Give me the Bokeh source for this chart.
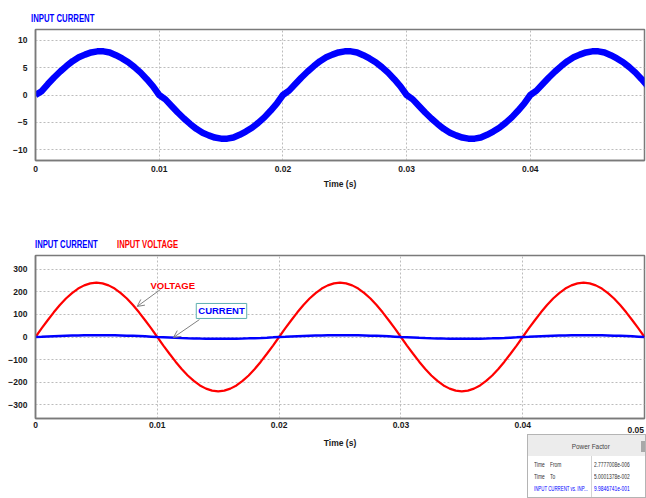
from bokeh.plotting import figure
from bokeh.layouts import column
from bokeh.models import Range1d, Label, Arrow, OpenHead, FixedTicker, Div
from bokeh.embed import file_html
from bokeh.resources import INLINE

# ---------------- data ----------------
time_s = [
    0.0, 0.0005, 0.001, 0.0015, 0.002, 0.0025, 0.003, 0.0035, 0.004, 0.0045,
    0.005, 0.0055, 0.006, 0.0065, 0.007, 0.0075, 0.008, 0.0085, 0.009, 0.0095,
    0.01, 0.0105, 0.011, 0.0115, 0.012, 0.0125, 0.013, 0.0135, 0.014, 0.0145,
    0.015, 0.0155, 0.016, 0.0165, 0.017, 0.0175, 0.018, 0.0185, 0.019, 0.0195,
    0.02, 0.0205, 0.021, 0.0215, 0.022, 0.0225, 0.023, 0.0235, 0.024, 0.0245,
    0.025, 0.0255, 0.026, 0.0265, 0.027, 0.0275, 0.028, 0.0285, 0.029, 0.0295,
    0.03, 0.0305, 0.031, 0.0315, 0.032, 0.0325, 0.033, 0.0335, 0.034, 0.0345,
    0.035, 0.0355, 0.036, 0.0365, 0.037, 0.0375, 0.038, 0.0385, 0.039, 0.0395,
    0.04, 0.0405, 0.041, 0.0415, 0.042, 0.0425, 0.043, 0.0435, 0.044, 0.0445,
    0.045, 0.0455, 0.046, 0.0465, 0.047, 0.0475, 0.048, 0.0485, 0.049, 0.0495,
    0.05,
]

input_current = [
    0.0, 0.7, 2.0, 3.2, 4.3, 5.3, 6.2, 6.9, 7.4, 7.8,
    8.0, 8.0, 7.8, 7.3, 6.7, 6.0, 5.1, 4.1, 2.9, 1.6,
    0.0, -0.8, -2.0, -3.2, -4.3, -5.3, -6.2, -6.9, -7.4, -7.8,
    -8.0, -8.0, -7.8, -7.3, -6.7, -6.0, -5.1, -4.1, -2.9, -1.6,
    0.0, 0.8, 2.0, 3.2, 4.3, 5.3, 6.2, 6.9, 7.4, 7.8,
    8.0, 8.0, 7.8, 7.3, 6.7, 6.0, 5.1, 4.1, 2.9, 1.6,
    0.0, -0.8, -2.0, -3.2, -4.3, -5.3, -6.2, -6.9, -7.4, -7.8,
    -8.0, -8.0, -7.8, -7.3, -6.7, -6.0, -5.1, -4.1, -2.9, -1.6,
    0.0, 0.8, 2.0, 3.2, 4.3, 5.3, 6.2, 6.9, 7.4, 7.8,
    8.0, 8.0, 7.8, 7.3, 6.7, 6.0, 5.1, 4.1, 2.9, 1.6,
    0.0,
]

input_voltage = [
    0, 38, 74, 109, 141, 170, 194, 214, 228, 237,
    240, 237, 228, 214, 194, 170, 141, 109, 74, 38,
    0, -38, -74, -109, -141, -170, -194, -214, -228, -237,
    -240, -237, -228, -214, -194, -170, -141, -109, -74, -38,
    0, 38, 74, 109, 141, 170, 194, 214, 228, 237,
    240, 237, 228, 214, 194, 170, 141, 109, 74, 38,
    0, -38, -74, -109, -141, -170, -194, -214, -228, -237,
    -240, -237, -228, -214, -194, -170, -141, -109, -74, -38,
    0, 38, 74, 109, 141, 170, 194, 214, 228, 237,
    240, 237, 228, 214, 194, 170, 141, 109, 74, 38,
    0,
]

x_ticks = [0, 0.01, 0.02, 0.03, 0.04, 0.05]
x_tick_labels = ["0", "0.01", "0.02", "0.03", "0.04", "0.05"]
top_y_ticks = [-10, -5, 0, 5, 10]
bottom_y_ticks = [-300, -200, -100, 0, 100, 200, 300]

series_names = ["INPUT CURRENT", "INPUT VOLTAGE"]
pf_rows = [("Time", "From", "2.7777008e-006"), ("Time", "To", "5.0001378e-002")]
pf_result_label = "INPUT CURRENT vs. INP..."
pf_result_value = "9.9846741e-001"

# ---------------- styling ----------------
FONT = "Liberation Sans"
BLUE = "#0000ff"
RED = "#ff0000"
FRAME = "#7a7a7a"
GRID = "#bcbcbc"
TXT = "#1a1a1a"


def style(p, xt, yt):
    p.background_fill_color = "white"
    p.border_fill_color = "white"
    p.outline_line_color = FRAME
    p.outline_line_width = 1.5
    p.xaxis.ticker = FixedTicker(ticks=xt)
    p.yaxis.ticker = FixedTicker(ticks=yt)
    p.xaxis.major_label_overrides = {t: lab for t, lab in zip(x_ticks, x_tick_labels)}
    for ax in (p.xaxis, p.yaxis):
        ax.axis_line_color = FRAME
        ax.axis_line_width = 1.5
        ax.major_tick_out = 0
        ax.major_tick_in = 0
        ax.minor_tick_out = 0
        ax.minor_tick_in = 0
        ax.major_label_text_font = FONT
        ax.major_label_text_font_style = "bold"
        ax.major_label_text_font_size = "8.5px"
        ax.major_label_text_color = TXT
    p.xaxis.axis_label = "Time (s)"
    p.xaxis.axis_label_text_font = FONT
    p.xaxis.axis_label_text_font_style = "bold"
    p.xaxis.axis_label_text_font_size = "8.5px"
    p.xaxis.axis_label_text_color = TXT
    p.yaxis.major_label_standoff = 8
    for g in (p.xgrid, p.ygrid):
        g.grid_line_color = GRID
        g.grid_line_dash = "2 2"
        g.grid_line_width = 1


def abs_div(text, left, top, width, height):
    return Div(text=text, width=width, height=height,
               styles={"position": "absolute", "left": f"{left}px", "top": f"{top}px",
                       "margin": "0", "padding": "0"})


def narrow(text, color, size, k, weight="bold", origin="left", extra=""):
    return (f'<span style="display:inline-block;font-family:\'Liberation Sans\';font-weight:{weight};'
            f'font-size:{size};color:{color};white-space:nowrap;line-height:12px;'
            f'transform:scaleX({k});transform-origin:{origin};{extra}">{text}</span>')


# ---------------- top chart ----------------
p1 = figure(width=646, height=205, x_range=Range1d(0, 0.04923), y_range=Range1d(-12, 12),
            output_backend="svg", toolbar_location=None,
            min_border_left=31, min_border_right=0, min_border_top=29, min_border_bottom=45)
style(p1, x_ticks, top_y_ticks)
p1.xaxis.major_label_standoff = 5
p1.xaxis.axis_label_standoff = 4
p1.line(time_s, input_current, line_width=6.5, line_color=BLUE)

# ---------------- bottom chart ----------------
p2 = figure(width=646, height=293, x_range=Range1d(0, 0.05), y_range=Range1d(-360, 360),
            output_backend="svg", toolbar_location=None,
            min_border_left=35, min_border_right=2, min_border_top=50, min_border_bottom=80)
style(p2, x_ticks[:-1], bottom_y_ticks)
p2.xaxis.major_label_standoff = 3
p2.xaxis.axis_label_standoff = 7
p2.line(time_s, input_voltage, line_width=2.2, line_color=RED)
p2.line(time_s, input_current, line_width=2.5, line_color=BLUE)

p2.add_layout(Label(x=0.00944, y=227, text="VOLTAGE", text_color=RED, text_font=FONT,
                    text_font_style="bold", text_font_size="9.5px", text_baseline="middle"))
p2.add_layout(Arrow(x_start=0.01026, y_start=210, x_end=0.00835, y_end=135,
                    line_color="#808080", line_width=1,
                    end=OpenHead(size=7, line_color="#808080", line_width=1)))
p2.add_layout(Label(x=0.0132, y=115, text="CURRENT", text_color=BLUE, text_font=FONT,
                    text_font_style="bold", text_font_size="9.5px", text_baseline="middle",
                    border_line_color="#5fb0b0", border_line_width=1,
                    background_fill_color="white", padding=2))
p2.add_layout(Arrow(x_start=0.01346, y_start=77, x_end=0.01133, y_end=-2,
                    line_color="#808080", line_width=1,
                    end=OpenHead(size=7, line_color="#808080", line_width=1)))

# ---------------- texts outside the plot frames ----------------
title_top = abs_div(narrow(series_names[0], BLUE, "10.5px", 0.74), 31, 10, 120, 12)
legend_cur = abs_div(narrow(series_names[0], BLUE, "10.5px", 0.73), 35, 236, 80, 12)
legend_vol = abs_div(narrow(series_names[1], RED, "10.5px", 0.73), 117, 236, 80, 12)
last_tick = abs_div(f'<div style="width:30px;text-align:right;font-family:\'Liberation Sans\';'
                    f'font-weight:bold;font-size:8.5px;color:{TXT};line-height:12px">'
                    f'{x_tick_labels[-1]}</div>', 614, 421, 30, 12)

rows_html = ""


def cell(text, left, top, color="#333333", k=0.72):
    return (f'<div style="position:absolute;left:{left}px;top:{top}px;line-height:10px">'
            + narrow(text, color, "6.8px", k, weight="normal") + '</div>')


for i, (a, b, v) in enumerate(pf_rows):
    y = 23 + 12 * i
    rows_html += cell(a, 6, y) + cell(b, 22, y) + cell(v, 66, y)
rows_html += cell(pf_result_label, 6, 47, BLUE, k=0.64) + cell(pf_result_value, 66, 47, BLUE)
panel_html = (
    '<div style="position:relative;width:119px;height:64px;box-sizing:border-box;'
    'border:1px solid #b4b4b4;background:#ffffff;overflow:hidden">'
    '<div style="position:absolute;left:0;top:0;width:119px;height:21px;background:#ececec;'
    'text-align:center;line-height:21px">'
    + narrow("Power Factor", "#444444", "8px", 0.8, weight="normal", origin="center",
             extra="line-height:21px;margin-left:6px") + '</div>'
    '<div style="position:absolute;right:0;top:6px;width:4px;height:11px;background:#a8a8a8"></div>'
    '<div style="position:absolute;left:63px;top:21px;width:1px;height:43px;background:#d4d4d4"></div>'
    + rows_html + '</div>'
)
panel = abs_div(panel_html, 527, 434, 119, 64)

layout = column(p1, p2, title_top, legend_cur, legend_vol, last_tick, panel, spacing=0)
open("out.html", "w").write(file_html(layout, INLINE))
